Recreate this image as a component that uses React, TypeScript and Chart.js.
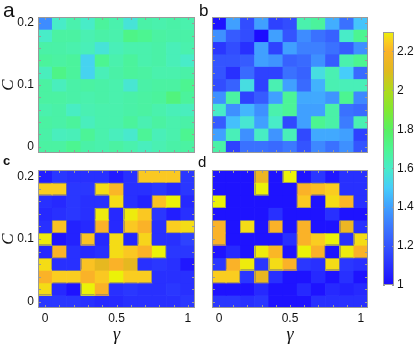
import React, { useEffect, useRef } from 'react';
import { Chart, registerables } from 'chart.js';

Chart.register(...registerables);

const W = 415;
const H = 344;

// gamma categories (x) and C rows (y, top row first)
const GAMMA = ['0', '0.1', '0.2', '0.3', '0.4', '0.5', '0.6', '0.7', '0.8', '0.9', '1'];
const GAMMA_TICK_LABELS = ['0', '0.5', '1'];
const C_VALUES = [0.2, 0.18, 0.16, 0.14, 0.12, 0.1, 0.08, 0.06, 0.04, 0.02, 0];
const C_TICK_LABELS = ['0', '0.1', '0.2'];

// colour bar
const CBAR_MIN = 1;
const CBAR_MAX = 2.3;
const CBAR_TICKS = [1, 1.2, 1.4, 1.6, 1.8, 2, 2.2];

// value -> colour stops
const COLOR_STOPS: [number, number[]][] = [
  [1.0, [28, 12, 255]],
  [1.1, [40, 48, 255]],
  [1.2, [52, 84, 255]],
  [1.3, [60, 120, 255]],
  [1.4, [64, 160, 255]],
  [1.5, [70, 205, 250]],
  [1.6, [72, 236, 200]],
  [1.7, [76, 245, 145]],
  [1.8, [88, 240, 96]],
  [1.9, [130, 232, 48]],
  [2.0, [175, 218, 28]],
  [2.1, [225, 185, 30]],
  [2.2, [250, 178, 40]],
  [2.25, [250, 205, 32]],
  [2.3, [235, 242, 8]],
];

// panel a (rows: C = 0.2 ... 0)
const PANEL_A = [
  [1.35, 1.6, 1.65, 1.6, 1.68, 1.65, 1.57, 1.66, 1.65, 1.66, 1.65],
  [1.6, 1.67, 1.67, 1.64, 1.66, 1.65, 1.72, 1.7, 1.67, 1.66, 1.66],
  [1.66, 1.66, 1.65, 1.63, 1.57, 1.63, 1.65, 1.65, 1.66, 1.63, 1.65],
  [1.68, 1.67, 1.68, 1.52, 1.7, 1.65, 1.68, 1.65, 1.66, 1.63, 1.6],
  [1.62, 1.72, 1.68, 1.52, 1.63, 1.66, 1.68, 1.67, 1.65, 1.65, 1.66],
  [1.67, 1.62, 1.66, 1.67, 1.66, 1.65, 1.58, 1.66, 1.67, 1.67, 1.7],
  [1.67, 1.67, 1.66, 1.65, 1.66, 1.65, 1.66, 1.67, 1.68, 1.74, 1.68],
  [1.65, 1.66, 1.61, 1.64, 1.65, 1.65, 1.66, 1.67, 1.65, 1.63, 1.62],
  [1.67, 1.66, 1.68, 1.62, 1.65, 1.65, 1.68, 1.64, 1.67, 1.65, 1.66],
  [1.66, 1.62, 1.63, 1.69, 1.65, 1.62, 1.59, 1.69, 1.63, 1.65, 1.7],
  [1.67, 1.67, 1.7, 1.66, 1.65, 1.67, 1.65, 1.62, 1.64, 1.66, 1.67],
];

// panel b
const PANEL_B = [
  [1.02, 1.4, 1.18, 1.4, 1.15, 1.18, 1.65, 1.68, 1.43, 1.28, 1.48],
  [1.36, 1.22, 1.18, 1.0, 1.4, 1.2, 1.35, 1.28, 1.24, 1.6, 1.7],
  [1.12, 1.18, 1.1, 1.4, 1.15, 1.4, 1.32, 1.32, 1.28, 1.22, 1.36],
  [1.2, 1.2, 1.22, 1.4, 1.37, 1.24, 1.26, 1.36, 1.22, 1.65, 1.7],
  [1.2, 1.1, 1.26, 1.15, 1.15, 1.28, 1.24, 1.55, 1.64, 1.5, 1.26],
  [1.18, 1.24, 1.55, 1.15, 1.64, 1.4, 1.26, 1.44, 1.64, 1.63, 1.63],
  [1.36, 1.67, 1.15, 1.22, 1.4, 1.69, 1.42, 1.42, 1.37, 1.7, 1.34],
  [1.6, 1.36, 1.45, 1.36, 1.65, 1.69, 1.4, 1.4, 1.66, 1.28, 1.26],
  [1.22, 1.47, 1.58, 1.4, 1.6, 1.17, 1.4, 1.7, 1.66, 1.31, 1.64],
  [1.4, 1.63, 1.36, 1.61, 1.37, 1.63, 1.17, 1.42, 1.42, 1.4, 1.15],
  [1.66, 1.15, 1.28, 1.28, 1.26, 1.3, 1.2, 1.34, 1.28, 1.36, 1.2],
];

// panel c
const PANEL_C = [
  [1.05, 1.12, 1.1, 1.1, 1.1, 1.04, 1.1, 2.24, 2.24, 2.24, 1.12],
  [2.25, 2.25, 1.12, 1.12, 2.27, 2.21, 1.1, 1.1, 1.12, 1.08, 1.12],
  [1.1, 1.08, 1.12, 1.1, 1.1, 2.27, 1.1, 1.06, 2.23, 2.3, 1.08],
  [1.08, 1.1, 1.12, 1.1, 2.29, 1.08, 2.29, 2.24, 1.12, 1.05, 1.1],
  [1.1, 2.23, 1.06, 1.08, 2.2, 1.08, 2.24, 2.2, 1.1, 2.25, 2.27],
  [2.29, 1.02, 1.06, 2.23, 1.08, 2.27, 1.07, 2.26, 1.1, 1.1, 1.15],
  [1.08, 2.2, 1.1, 1.08, 1.1, 2.27, 2.24, 2.2, 2.3, 1.12, 1.12],
  [2.27, 1.1, 1.1, 2.23, 2.12, 2.2, 2.12, 1.1, 1.12, 1.1, 1.03],
  [2.2, 2.25, 2.25, 2.2, 2.24, 2.3, 2.25, 2.25, 1.1, 1.1, 1.1],
  [2.27, 1.08, 1.02, 2.3, 2.2, 1.1, 1.12, 1.1, 1.1, 1.12, 1.1],
  [1.12, 1.12, 1.12, 1.1, 1.08, 1.08, 1.1, 1.1, 1.1, 1.1, 1.12],
];

// panel d
const PANEL_D = [
  [1.02, 1.02, 1.02, 2.15, 1.02, 2.3, 1.02, 1.12, 1.03, 1.1, 1.1],
  [1.02, 1.02, 1.02, 2.3, 1.02, 1.02, 2.2, 2.22, 2.25, 1.1, 1.1],
  [2.3, 1.02, 1.02, 1.02, 1.02, 1.02, 2.24, 1.02, 2.27, 2.21, 1.1],
  [1.02, 1.02, 1.02, 1.02, 1.1, 1.02, 1.02, 1.02, 1.1, 1.02, 1.02],
  [2.2, 1.02, 2.27, 1.02, 2.2, 1.02, 2.2, 1.02, 1.02, 2.15, 1.1],
  [2.2, 1.02, 1.02, 1.02, 1.02, 1.1, 2.2, 2.25, 2.3, 1.1, 2.27],
  [1.02, 1.08, 1.02, 2.29, 2.21, 1.02, 2.3, 2.2, 1.02, 2.29, 2.2],
  [1.12, 2.2, 2.29, 1.12, 2.27, 2.2, 1.12, 1.1, 2.27, 1.12, 1.1],
  [2.25, 2.25, 1.12, 2.13, 1.1, 1.02, 1.02, 1.08, 1.02, 1.1, 1.02],
  [1.02, 1.02, 1.02, 1.08, 1.02, 1.02, 1.08, 1.02, 1.08, 1.06, 1.08],
  [1.12, 1.12, 1.1, 1.12, 1.02, 1.02, 1.02, 1.1, 1.1, 1.1, 1.1],
];

const FRAME_COLOR = '#9a9a9a';
const EDGE_COLOR = 'rgba(120,120,120,0.55)';
const TEXT_COLOR = '#111';
const SANS = '"Liberation Sans", Arial, sans-serif';
const SERIF = '"Liberation Serif", "Times New Roman", serif';
const HIGH = 1.9;

function colorFor(v: number): string {
  const s = COLOR_STOPS;
  if (v <= s[0][0]) return `rgb(${s[0][1].join(',')})`;
  for (let i = 1; i < s.length; i++) {
    if (v <= s[i][0]) {
      const t = (v - s[i - 1][0]) / (s[i][0] - s[i - 1][0]);
      const c = s[i - 1][1].map((a, k) => Math.round(a + (s[i][1][k] - a) * t));
      return `rgb(${c.join(',')})`;
    }
  }
  return `rgb(${s[s.length - 1][1].join(',')})`;
}

// draws a faint grey seam where a high (yellow) cell meets a low (blue) one
const edgePlugin = {
  id: 'edges',
  afterDatasetsDraw(chart: any, _args: any, opts: any) {
    const vals: number[][] | undefined = opts.values;
    if (!vals) return;
    const { ctx } = chart;
    ctx.save();
    ctx.strokeStyle = EDGE_COLOR;
    ctx.lineWidth = 1;
    ctx.beginPath();
    const isHigh = (r: number, c: number) => vals[r][c] >= HIGH;
    for (let r = 0; r < vals.length; r++) {
      const meta = chart.getDatasetMeta(r);
      for (let c = 0; c < vals[r].length; c++) {
        if (!isHigh(r, c)) continue;
        const el = meta.data[c];
        const { x, y, base, width } = el.getProps(['x', 'y', 'base', 'width'], true);
        const l = Math.round(x - width / 2) + 0.5;
        const rr = Math.round(x + width / 2) - 0.5;
        const t = Math.round(Math.min(y, base)) + 0.5;
        const b = Math.round(Math.max(y, base)) - 0.5;
        if (r > 0 && !isHigh(r - 1, c)) { ctx.moveTo(l, t); ctx.lineTo(rr, t); }
        if (r < vals.length - 1 && !isHigh(r + 1, c)) { ctx.moveTo(l, b); ctx.lineTo(rr, b); }
        if (c > 0 && !isHigh(r, c - 1)) { ctx.moveTo(l, t); ctx.lineTo(l, b); }
        if (c < vals[r].length - 1 && !isHigh(r, c + 1)) { ctx.moveTo(rr, t); ctx.lineTo(rr, b); }
      }
    }
    ctx.stroke();
    ctx.restore();
  },
};

const framePlugin = {
  id: 'frame',
  afterDatasetsDraw(chart: any, _args: any, opts: any) {
    const { ctx, chartArea: a, scales } = chart;
    const len = opts.tickLen ?? 3;
    ctx.save();
    ctx.strokeStyle = FRAME_COLOR;
    ctx.lineWidth = 1;
    ctx.beginPath();
    if (opts.xTicks && scales.x) {
      const xs = scales.x;
      xs.ticks.forEach((_t: any, i: number) => {
        const px = Math.round(xs.getPixelForTick(i)) + 0.5;
        ctx.moveTo(px, a.bottom);
        ctx.lineTo(px, a.bottom - len);
        ctx.moveTo(px, a.top);
        ctx.lineTo(px, a.top + len);
      });
    }
    const ys = scales.y;
    ys.ticks.forEach((t: any) => {
      const py = Math.round(ys.getPixelForValue(t.value)) + 0.5;
      ctx.moveTo(a.left, py);
      ctx.lineTo(a.left + len, py);
      ctx.moveTo(a.right, py);
      ctx.lineTo(a.right - len, py);
    });
    ctx.stroke();
    ctx.strokeRect(Math.round(a.left) + 0.5, Math.round(a.top) + 0.5, Math.round(a.right - a.left) - 1, Math.round(a.bottom - a.top) - 1);
    ctx.restore();
  },
};

type Area = { left: number; top: number; right: number; bottom: number };

function Panel({ values, area, showX, showY }: { values: number[][]; area: Area; showX: boolean; showY: boolean }) {
  const ref = useRef<HTMLCanvasElement>(null);
  useEffect(() => {
    if (!ref.current) return;
    const datasets = C_VALUES.map((c, r) => ({
      data: GAMMA.map(() => [c - 0.01, c + 0.01]),
      backgroundColor: values[r].map(colorFor),
      borderWidth: 0,
      barPercentage: 1,
      categoryPercentage: 1,
      grouped: false,
    }));
    const chart = new Chart(ref.current, {
      type: 'bar',
      data: { labels: GAMMA, datasets: datasets as any },
      plugins: [edgePlugin as any, framePlugin as any],
      options: {
        responsive: false,
        animation: false,
        events: [],
        layout: { padding: { left: 0, top: area.top, right: W - area.right, bottom: 0 } },
        plugins: {
          legend: { display: false },
          tooltip: { enabled: false },
          edges: { values },
          frame: { xTicks: true, tickLen: 3 },
        } as any,
        scales: {
          x: {
            type: 'category',
            offset: true,
            grid: { display: false, drawTicks: false },
            border: { display: false },
            ticks: {
              display: showX,
              autoSkip: false,
              maxRotation: 0,
              padding: 3,
              color: TEXT_COLOR,
              font: { family: SANS, size: 12 },
              callback: (_v: any, i: number) => (GAMMA_TICK_LABELS.includes(GAMMA[i]) ? GAMMA[i] : ''),
            },
            title: {
              display: showX,
              text: 'γ',
              color: TEXT_COLOR,
              padding: 0,
              font: { family: SERIF, size: 18, style: 'italic', lineHeight: 1 },
            },
            afterFit: (s: any) => {
              s.height = H - area.bottom;
            },
          },
          y: {
            type: 'linear',
            min: -0.01,
            max: 0.21,
            grid: { display: false, drawTicks: false },
            border: { display: false },
            afterBuildTicks: (s: any) => {
              s.ticks = C_VALUES.map((v) => ({ value: v }));
            },
            ticks: {
              display: showY,
              autoSkip: false,
              padding: 4,
              color: TEXT_COLOR,
              font: { family: SANS, size: 12 },
              callback: (v: any) => {
                const l = String(Math.round(Number(v) * 100) / 100);
                return C_TICK_LABELS.includes(l) ? l : '';
              },
            },
            title: {
              display: showY,
              text: 'C',
              color: TEXT_COLOR,
              padding: 0,
              font: { family: SERIF, size: 17, style: 'italic', lineHeight: 1 },
            },
            afterFit: (s: any) => {
              s.width = area.left;
            },
          },
        },
      },
    });
    return () => chart.destroy();
  }, []);
  return <canvas ref={ref} width={W} height={H} style={{ position: 'absolute', left: 0, top: 0 }} />;
}

function ColorBar({ area }: { area: Area }) {
  const ref = useRef<HTMLCanvasElement>(null);
  useEffect(() => {
    if (!ref.current) return;
    const chart = new Chart(ref.current, {
      type: 'bar',
      data: {
        labels: [''],
        datasets: [
          {
            data: [[CBAR_MIN, CBAR_MAX]] as any,
            borderWidth: 0,
            barPercentage: 1,
            categoryPercentage: 1,
            backgroundColor: (ctx: any) => {
              const ch = ctx.chart;
              const ys = ch.scales.y;
              if (!ch.chartArea || !ys) return '#888';
              const g = ch.ctx.createLinearGradient(0, ys.getPixelForValue(CBAR_MIN), 0, ys.getPixelForValue(CBAR_MAX));
              COLOR_STOPS.forEach(([v]) => {
                g.addColorStop((v - CBAR_MIN) / (CBAR_MAX - CBAR_MIN), colorFor(v));
              });
              return g;
            },
          },
        ],
      },
      plugins: [framePlugin as any],
      options: {
        responsive: false,
        animation: false,
        events: [],
        layout: { padding: { left: area.left, top: area.top, right: 0, bottom: H - area.bottom } },
        plugins: {
          legend: { display: false },
          tooltip: { enabled: false },
          frame: { xTicks: false, tickLen: 2 },
        } as any,
        scales: {
          x: { display: false, offset: true },
          y: {
            type: 'linear',
            position: 'right',
            min: CBAR_MIN,
            max: CBAR_MAX,
            grid: { display: false, drawTicks: false },
            border: { display: false },
            afterBuildTicks: (s: any) => {
              s.ticks = CBAR_TICKS.map((v) => ({ value: v }));
            },
            ticks: {
              padding: 3,
              color: TEXT_COLOR,
              font: { family: SANS, size: 12 },
              callback: (v: any) => String(Math.round(Number(v) * 10) / 10),
            },
            afterFit: (s: any) => {
              s.width = W - area.right;
            },
          },
        },
      },
    });
    return () => chart.destroy();
  }, []);
  return <canvas ref={ref} width={W} height={H} style={{ position: 'absolute', left: 0, top: 0 }} />;
}

const letterBase: React.CSSProperties = {
  position: 'absolute',
  fontFamily: SANS,
  lineHeight: 1,
  color: TEXT_COLOR,
  margin: 0,
};

export default function App() {
  return (
    <div style={{ position: 'fixed', left: 0, top: 0, width: W, height: H, background: '#fff', overflow: 'hidden' }}>
      <Panel values={PANEL_A} area={{ left: 38, top: 17, right: 195, bottom: 153 }} showX={false} showY={true} />
      <Panel values={PANEL_B} area={{ left: 212, top: 17, right: 368, bottom: 153 }} showX={false} showY={false} />
      <Panel values={PANEL_C} area={{ left: 38, top: 170, right: 195, bottom: 308 }} showX={true} showY={true} />
      <Panel values={PANEL_D} area={{ left: 212, top: 170, right: 368, bottom: 308 }} showX={true} showY={false} />
      <ColorBar area={{ left: 383, top: 32, right: 394, bottom: 285 }} />
      <div style={{ ...letterBase, left: 3, top: -1, fontSize: 21 }}>a</div>
      <div style={{ ...letterBase, left: 199, top: 2, fontSize: 17 }}>b</div>
      <div style={{ ...letterBase, left: 3, top: 154, fontSize: 13, fontWeight: 'bold' }}>c</div>
      <div style={{ ...letterBase, left: 198, top: 154, fontSize: 15 }}>d</div>
    </div>
  );
}
